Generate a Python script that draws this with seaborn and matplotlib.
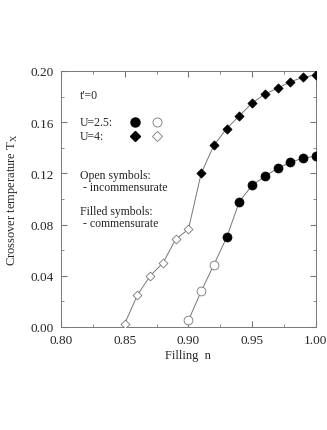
import matplotlib
matplotlib.use("Agg")
from matplotlib import pyplot as plt
from matplotlib.ticker import MultipleLocator, FormatStrFormatter
import seaborn as sns
import pandas as pd

# U=4 (diamonds): open = incommensurate, filled = commensurate
n_u4_open = [0.85, 0.86, 0.87, 0.88, 0.89, 0.90]
t_u4_open = [0.0026, 0.025, 0.040, 0.050, 0.0685, 0.0763]
n_u4_fill = [0.91, 0.92, 0.93, 0.94, 0.95, 0.96, 0.97, 0.98, 0.99, 1.00]
t_u4_fill = [0.120, 0.142, 0.155, 0.165, 0.175, 0.182, 0.1865, 0.1916, 0.195, 0.197]

# U=2.5 (circles)
n_u25_open = [0.90, 0.91, 0.92]
t_u25_open = [0.0052, 0.0279, 0.0487]
n_u25_fill = [0.93, 0.94, 0.95, 0.96, 0.97, 0.98, 0.99, 1.00]
t_u25_fill = [0.070, 0.098, 0.1107, 0.1177, 0.124, 0.1286, 0.132, 0.1334]

sns.set_style("ticks")
plt.rcParams['font.family'] = ['Liberation Serif', 'DejaVu Serif']

fig = plt.figure(figsize=(3.27, 4.31), dpi=100)
ax = fig.add_axes([0.1865, 0.239, 0.7795, 0.594])

line_u4 = pd.DataFrame({"n": n_u4_open + n_u4_fill, "T": t_u4_open + t_u4_fill})
line_u25 = pd.DataFrame({"n": n_u25_open + n_u25_fill, "T": t_u25_open + t_u25_fill})
sns.lineplot(data=line_u4, x="n", y="T", ax=ax, color="#777777", lw=0.7, sort=False)
sns.lineplot(data=line_u25, x="n", y="T", ax=ax, color="#777777", lw=0.7, sort=False)

sns.scatterplot(x=n_u4_open, y=t_u4_open, ax=ax, marker="D", s=20,
                facecolor="white", edgecolor="#777777", linewidth=0.6, zorder=3)
sns.scatterplot(x=n_u4_fill, y=t_u4_fill, ax=ax, marker="D", s=22,
                color="black", edgecolor="black", linewidth=0.5, zorder=3)
sns.scatterplot(x=n_u25_open, y=t_u25_open, ax=ax, marker="o", s=40,
                facecolor="white", edgecolor="#777777", linewidth=0.6, zorder=3)
sns.scatterplot(x=n_u25_fill, y=t_u25_fill, ax=ax, marker="o", s=42,
                color="black", edgecolor="black", linewidth=0.5, zorder=3)

ax.set_xlim(0.80, 1.00)
ax.set_ylim(0.0, 0.20)
ax.xaxis.set_major_locator(MultipleLocator(0.05))
ax.xaxis.set_minor_locator(MultipleLocator(0.025))
ax.yaxis.set_major_locator(MultipleLocator(0.04))
ax.yaxis.set_minor_locator(MultipleLocator(0.02))
ax.xaxis.set_major_formatter(FormatStrFormatter("%.2f"))
ax.yaxis.set_major_formatter(FormatStrFormatter("%.2f"))
ax.tick_params(which="both", direction="in", top=True, right=True,
               color="#777777", labelsize=9.5, pad=5)
ax.tick_params(which="major", length=4)
ax.tick_params(which="minor", length=2.5)
for sp in ax.spines.values():
    sp.set_color("#777777")
    sp.set_linewidth(0.7)

ax.set_xlabel("Filling  n", fontsize=9, labelpad=2)
ax.set_ylabel("Crossover temperature T$_\\mathregular{X}$", fontsize=9, labelpad=8)

# legend-like annotations
tfs = 8.5
ax.text(0.075, 0.908, "t'=0", transform=ax.transAxes, fontsize=tfs, va="center")
ax.text(0.075, 0.800, "U=2.5:", transform=ax.transAxes, fontsize=tfs, va="center")
ax.text(0.075, 0.745, "U=4:", transform=ax.transAxes, fontsize=tfs, va="center")
ax.plot([0.29], [0.800], transform=ax.transAxes, marker="o", ms=6.5, color="black", ls="none")
ax.plot([0.375], [0.800], transform=ax.transAxes, marker="o", ms=6.5, mfc="white",
        mec="#777777", mew=0.6, ls="none")
ax.plot([0.29], [0.745], transform=ax.transAxes, marker="D", ms=5.3, color="black", ls="none")
ax.plot([0.375], [0.745], transform=ax.transAxes, marker="D", ms=5.3, mfc="white",
        mec="#777777", mew=0.6, ls="none")
ax.text(0.075, 0.592, "Open symbols:", transform=ax.transAxes, fontsize=tfs, va="center")
ax.text(0.075, 0.545, " - incommensurate", transform=ax.transAxes, fontsize=tfs, va="center")
ax.text(0.075, 0.452, "Filled symbols:", transform=ax.transAxes, fontsize=tfs, va="center")
ax.text(0.075, 0.405, " - commensurate", transform=ax.transAxes, fontsize=tfs, va="center")

fig.savefig("out.png", dpi=100)
